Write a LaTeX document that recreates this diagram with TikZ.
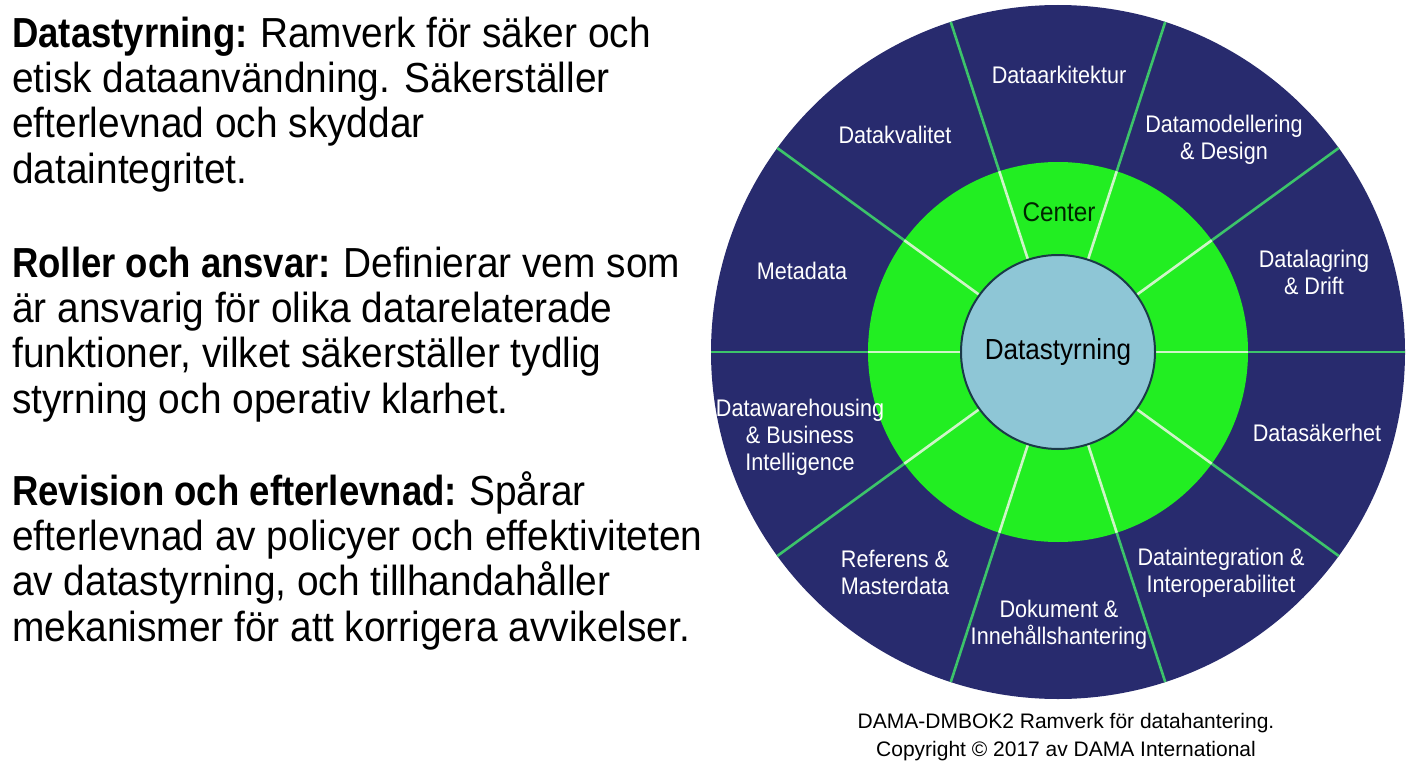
\documentclass[tikz,border=0pt]{standalone}
\usepackage{fontspec}
\setmainfont{Liberation Sans}
\newfontfamily\condfont[FakeStretch=0.9]{Liberation Sans}
\newfontfamily\textcondfont[FakeStretch=0.925,BoldFeatures={FakeStretch=0.87}]{Liberation Sans}
\definecolor{navy}{HTML}{282B6E}
\definecolor{ringgreen}{HTML}{22EE22}
\definecolor{corefill}{HTML}{8EC6D6}
\definecolor{coreedge}{HTML}{1B3A48}
\definecolor{outspokecol}{HTML}{3CC46A}
\definecolor{inspokecol}{HTML}{CFF5C8}
\begin{document}
\begin{tikzpicture}[x=1pt,y=-1pt,
  wlabel/.style={text=white,font=\condfont\fontsize{24}{27}\selectfont,align=center,inner sep=0pt},
  para/.style={anchor=base west,align=left,inner sep=0pt,font=\textcondfont\fontsize{42}{45.3}\selectfont},
  outspoke/.style={draw=outspokecol,line width=2.6pt},
  inspoke/.style={draw=inspokecol,line width=2.6pt}]
\useasboundingbox (0,0) rectangle (1408,768);
\fill[white] (0,0) rectangle (1408,768);
% left text (anchor at baseline of last line)
\node[para] (p1) at (12,183) {\textbf{Datastyrning:}\hspace{-2pt} Ramverk för säker och\\etisk dataanvändning. Säkerställer\\efterlevnad och skyddar\\dataintegritet.};
\node[para] (p2) at (12,413) {\textbf{Roller och ansvar:}\hspace{-2pt} Definierar vem som\\är ansvarig för olika datarelaterade\\funktioner, vilket säkerställer tydlig\\styrning och operativ klarhet.};
\node[para] (p3) at (12,641) {\textbf{Revision och efterlevnad:}\hspace{-2pt} Spårar\\efterlevnad av policyer och effektiviteten\\av datastyrning, och tillhandahåller\\mekanismer för att korrigera avvikelser.};
% wheel
\coordinate (c) at (1058,352);
\fill[navy] (c) circle[radius=347pt];
\fill[ringgreen] (c) circle[radius=190pt];
\foreach \a in {0,36,...,324} {
  \draw[outspoke,shift={(c)}] (\a:189) -- (\a:347);
  \draw[inspoke,shift={(c)}] (\a:96) -- (\a:190);
}
\node[circle,fill=corefill,draw=coreedge,line width=2pt,minimum size=194pt,inner sep=0pt,
  font=\condfont\fontsize{29}{31}\selectfont,text=black] (core) at (c) {Datastyrning};
\node[font=\condfont\fontsize{27}{30}\selectfont,text=black!85!green,inner sep=0pt] (centerlbl) at (1059,212) {Center};
\node[wlabel] (arch) at (1059,75) {Dataarkitektur};
\node[wlabel] (model) at (1224,140) {Datamodellering\\\& Design};
\node[wlabel] (stor) at (1314,272) {Datalagring\\\& Drift};
\node[wlabel] (sec) at (1317,433) {Datasäkerhet};
\node[wlabel] (integ) at (1221,573) {Dataintegration \&\\Interoperabilitet};
\node[wlabel] (doc) at (1059,625) {Dokument \&\\Innehållshantering};
\node[wlabel] (ref) at (895,572) {Referens \&\\Masterdata};
\node[wlabel] (dw) at (800,437) {Datawarehousing\\\& Business\\Intelligence};
\node[wlabel] (meta) at (802,271) {Metadata};
\node[wlabel] (qual) at (895,135) {Datakvalitet};
% caption
\node[font=\fontsize{21}{28}\selectfont,align=center,inner sep=0pt] (cap) at (1066,737) {DAMA-DMBOK2 Ramverk för datahantering.\\Copyright © 2017 av DAMA International};
\end{tikzpicture}
\end{document}
